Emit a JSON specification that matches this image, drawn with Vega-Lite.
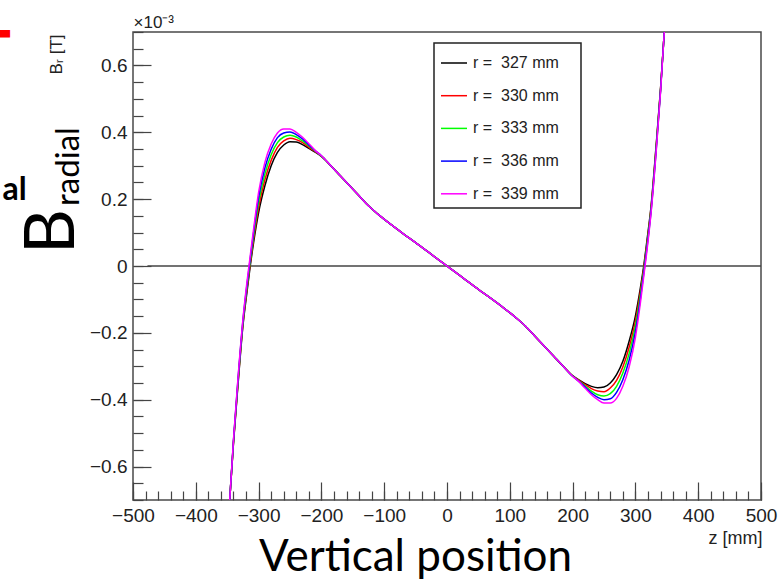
{
  "$schema": "https://vega.github.io/schema/vega-lite/v6.json",
  "width": 628,
  "height": 468,
  "autosize": "none",
  "padding": {"left": 133, "top": 32, "right": 18, "bottom": 79},
  "background": "white",
  "config": {
    "view": {"stroke": "#4a4a4a", "strokeWidth": 1.5},
    "axis": {"domain": false, "grid": false, "tickColor": "#444", "tickWidth": 1.2, "labelFont": "Liberation Sans", "labelFontSize": 19, "labelColor": "#222", "titleFont": "Liberation Sans", "titleColor": "#000", "titleFontWeight": "normal", "labelFlush": false, "labelOverlap": false},
    "legend": {"strokeWidth": 1.5}
  },
  "resolve": {"axis": {"x": "independent", "y": "independent"}},
  "layer": [
    {
      "data": {"values": [{"z1": -477, "z2": 500, "v": 0}]},
      "mark": {"type": "rule", "color": "#444", "strokeWidth": 1.5},
      "encoding": {
        "x": {"field": "z1", "type": "quantitative", "scale": {"domain": [-500, 500], "nice": false, "zero": false},
          "axis": {"orient": "bottom", "values": [-500,-480,-460,-440,-420,-400,-380,-360,-340,-320,-300,-280,-260,-240,-220,-200,-180,-160,-140,-120,-100,-80,-60,-40,-20,0,20,40,60,80,100,120,140,160,180,200,220,240,260,280,300,320,340,360,380,400,420,440,460,480,500], "tickSize": -9, "labels": false,
            "title": "Vertical position", "titleFont": "Lato", "titleFontSize": 44, "titleX": 282, "titleY": 70, "titleAlign": "center", "titleBaseline": "alphabetic"}},
        "x2": {"field": "z2"},
        "y": {"field": "v", "type": "quantitative", "scale": {"domain": [-0.7, 0.7], "nice": false, "zero": false},
          "axis": {"orient": "left", "values": [-0.7,-0.65,-0.6,-0.55,-0.5,-0.45,-0.4,-0.35,-0.3,-0.25,-0.2,-0.15,-0.1,-0.05,0,0.05,0.1,0.15,0.2,0.25,0.3,0.35,0.4,0.45,0.5,0.55,0.6,0.65,0.7], "tickSize": -10, "labels": false,
            "title": "B", "titleFont": "Lato", "titleFontSize": 70, "titleAngle": -90, "titleX": -60, "titleY": 199, "titleAlign": "center", "titleBaseline": "alphabetic"}}
      }
    },
    {
      "data": {"values": [
        {"z": -346, "r327": -0.7, "r330": -0.7, "r333": -0.7, "r336": -0.7, "r339": -0.7},
        {"z": -340, "r327": -0.53, "r330": -0.528, "r333": -0.525, "r336": -0.523, "r339": -0.52},
        {"z": -333, "r327": -0.36, "r330": -0.355, "r333": -0.35, "r336": -0.345, "r339": -0.34},
        {"z": -325, "r327": -0.18, "r330": -0.175, "r333": -0.17, "r336": -0.165, "r339": -0.16},
        {"z": -318, "r327": -0.07, "r330": -0.062, "r333": -0.055, "r336": -0.048, "r339": -0.04},
        {"z": -314, "r327": -0.01, "r330": -0.002, "r333": 0.005, "r336": 0.012, "r339": 0.02},
        {"z": -308, "r327": 0.07, "r330": 0.08, "r333": 0.09, "r336": 0.1, "r339": 0.11},
        {"z": -300, "r327": 0.16, "r330": 0.175, "r333": 0.19, "r336": 0.205, "r339": 0.22},
        {"z": -290, "r327": 0.24, "r330": 0.258, "r333": 0.275, "r336": 0.293, "r339": 0.31},
        {"z": -280, "r327": 0.3, "r330": 0.316, "r333": 0.333, "r336": 0.349, "r339": 0.365},
        {"z": -270, "r327": 0.34, "r330": 0.355, "r333": 0.369, "r336": 0.384, "r339": 0.398},
        {"z": -260, "r327": 0.362, "r330": 0.374, "r333": 0.386, "r336": 0.398, "r339": 0.41},
        {"z": -250, "r327": 0.372, "r330": 0.382, "r333": 0.391, "r336": 0.401, "r339": 0.41},
        {"z": -240, "r327": 0.371, "r330": 0.378, "r333": 0.386, "r336": 0.393, "r339": 0.4},
        {"z": -230, "r327": 0.363, "r330": 0.369, "r333": 0.374, "r336": 0.38, "r339": 0.385},
        {"z": -220, "r327": 0.352, "r330": 0.355, "r333": 0.359, "r336": 0.362, "r339": 0.366},
        {"z": -210, "r327": 0.341, "r330": 0.342, "r333": 0.344, "r336": 0.345, "r339": 0.346},
        {"z": -200, "r327": 0.328, "r330": 0.329, "r333": 0.329, "r336": 0.33, "r339": 0.33},
        {"z": -185, "r327": 0.3, "r330": 0.3, "r333": 0.3, "r336": 0.3, "r339": 0.3},
        {"z": -170, "r327": 0.27, "r330": 0.27, "r333": 0.27, "r336": 0.27, "r339": 0.27},
        {"z": -155, "r327": 0.24, "r330": 0.24, "r333": 0.24, "r336": 0.24, "r339": 0.24},
        {"z": -140, "r327": 0.21, "r330": 0.21, "r333": 0.21, "r336": 0.21, "r339": 0.21},
        {"z": -125, "r327": 0.18, "r330": 0.18, "r333": 0.18, "r336": 0.18, "r339": 0.18},
        {"z": -110, "r327": 0.155, "r330": 0.155, "r333": 0.155, "r336": 0.155, "r339": 0.155},
        {"z": -90, "r327": 0.125, "r330": 0.125, "r333": 0.125, "r336": 0.125, "r339": 0.125},
        {"z": -70, "r327": 0.097, "r330": 0.097, "r333": 0.097, "r336": 0.097, "r339": 0.097},
        {"z": -50, "r327": 0.07, "r330": 0.07, "r333": 0.07, "r336": 0.07, "r339": 0.07},
        {"z": -30, "r327": 0.042, "r330": 0.042, "r333": 0.042, "r336": 0.042, "r339": 0.042},
        {"z": -10, "r327": 0.014, "r330": 0.014, "r333": 0.014, "r336": 0.014, "r339": 0.014},
        {"z": 0, "r327": 0, "r330": 0, "r333": 0, "r336": 0, "r339": 0},
        {"z": 10, "r327": -0.014, "r330": -0.014, "r333": -0.014, "r336": -0.014, "r339": -0.014},
        {"z": 30, "r327": -0.042, "r330": -0.042, "r333": -0.042, "r336": -0.042, "r339": -0.042},
        {"z": 50, "r327": -0.07, "r330": -0.07, "r333": -0.07, "r336": -0.07, "r339": -0.07},
        {"z": 70, "r327": -0.097, "r330": -0.097, "r333": -0.097, "r336": -0.097, "r339": -0.097},
        {"z": 90, "r327": -0.125, "r330": -0.125, "r333": -0.125, "r336": -0.125, "r339": -0.125},
        {"z": 110, "r327": -0.155, "r330": -0.155, "r333": -0.155, "r336": -0.155, "r339": -0.155},
        {"z": 125, "r327": -0.18, "r330": -0.18, "r333": -0.18, "r336": -0.18, "r339": -0.18},
        {"z": 140, "r327": -0.21, "r330": -0.21, "r333": -0.21, "r336": -0.21, "r339": -0.21},
        {"z": 155, "r327": -0.24, "r330": -0.24, "r333": -0.24, "r336": -0.24, "r339": -0.24},
        {"z": 170, "r327": -0.27, "r330": -0.27, "r333": -0.27, "r336": -0.27, "r339": -0.27},
        {"z": 185, "r327": -0.3, "r330": -0.3, "r333": -0.3, "r336": -0.3, "r339": -0.3},
        {"z": 200, "r327": -0.328, "r330": -0.329, "r333": -0.329, "r336": -0.33, "r339": -0.33},
        {"z": 210, "r327": -0.341, "r330": -0.342, "r333": -0.344, "r336": -0.345, "r339": -0.346},
        {"z": 220, "r327": -0.352, "r330": -0.355, "r333": -0.359, "r336": -0.362, "r339": -0.366},
        {"z": 230, "r327": -0.36, "r330": -0.367, "r333": -0.374, "r336": -0.38, "r339": -0.385},
        {"z": 240, "r327": -0.364, "r330": -0.374, "r333": -0.385, "r336": -0.393, "r339": -0.4},
        {"z": 250, "r327": -0.362, "r330": -0.376, "r333": -0.389, "r336": -0.4, "r339": -0.41},
        {"z": 260, "r327": -0.35, "r330": -0.365, "r333": -0.382, "r336": -0.397, "r339": -0.41},
        {"z": 270, "r327": -0.325, "r330": -0.342, "r333": -0.36, "r336": -0.378, "r339": -0.396},
        {"z": 280, "r327": -0.285, "r330": -0.302, "r333": -0.32, "r336": -0.34, "r339": -0.36},
        {"z": 290, "r327": -0.225, "r330": -0.243, "r333": -0.262, "r336": -0.282, "r339": -0.302},
        {"z": 300, "r327": -0.15, "r330": -0.165, "r333": -0.18, "r336": -0.197, "r339": -0.214},
        {"z": 308, "r327": -0.065, "r330": -0.076, "r333": -0.087, "r336": -0.098, "r339": -0.11},
        {"z": 314, "r327": 0.01, "r330": 0.002, "r333": -0.005, "r336": -0.012, "r339": -0.02},
        {"z": 318, "r327": 0.07, "r330": 0.062, "r333": 0.055, "r336": 0.048, "r339": 0.04},
        {"z": 325, "r327": 0.18, "r330": 0.175, "r333": 0.17, "r336": 0.165, "r339": 0.16},
        {"z": 333, "r327": 0.36, "r330": 0.355, "r333": 0.35, "r336": 0.345, "r339": 0.34},
        {"z": 340, "r327": 0.53, "r330": 0.528, "r333": 0.525, "r336": 0.523, "r339": 0.52},
        {"z": 346, "r327": 0.7, "r330": 0.7, "r333": 0.7, "r336": 0.7, "r339": 0.7}
      ]},
      "transform": [{"fold": ["r327", "r330", "r333", "r336", "r339"], "as": ["r", "v"]}],
      "mark": {"type": "line", "strokeWidth": 1.5, "interpolate": "monotone", "clip": true},
      "encoding": {
        "x": {"field": "z", "type": "quantitative", "scale": {"domain": [-500, 500], "nice": false, "zero": false},
          "axis": {"orient": "bottom", "values": [-500,-400,-300,-200,-100,0,100,200,300,400,500], "tickSize": -18, "labelPadding": 24, "format": "d",
            "title": "z [mm]", "titleFontSize": 18, "titleColor": "#222", "titleX": 629, "titleY": 43, "titleAlign": "right", "titleBaseline": "alphabetic"}},
        "y": {"field": "v", "type": "quantitative", "scale": {"domain": [-0.7, 0.7], "nice": false, "zero": false},
          "axis": {"orient": "left", "values": [-0.6,-0.4,-0.2,0,0.2,0.4,0.6], "tickSize": -18, "labelPadding": 24, "format": "~g",
            "title": "Bᵣ [T]", "titleFontSize": 17, "titleColor": "#222", "titleAngle": -90, "titleX": -77, "titleY": 22, "titleAlign": "center", "titleBaseline": "middle"}},
        "color": {"field": "r", "type": "nominal",
          "scale": {"domain": ["r327", "r330", "r333", "r336", "r339"], "range": ["#000000", "#ff0000", "#00ff00", "#0000ff", "#ff00ff"]},
          "legend": {"orient": "none", "legendX": 301, "legendY": 11, "title": "\u00a0", "titleOrient": "right", "titlePadding": 16, "titleFontSize": 16, "padding": 6, "strokeColor": "#222", "fillColor": "#ffffff",
            "symbolType": "stroke", "symbolSize": 676, "symbolStrokeWidth": 1.5, "labelFont": "Liberation Sans", "labelFontSize": 16, "labelColor": "#222",
            "labelOffset": 5, "rowPadding": 10.7, "labelExpr": "'r =\u00a0\u00a0' + slice(datum.label, 1) + ' mm'"}}
      }
    },
    {
      "data": {"values": [{"z1": -477, "z2": 500, "v": 0}]},
      "mark": {"type": "rule", "opacity": 0},
      "encoding": {
        "x": {"field": "z1", "type": "quantitative", "scale": {"domain": [-500, 500], "nice": false, "zero": false},
          "axis": {"orient": "top", "ticks": false, "labels": false, "title": "×10⁻³", "titleFontSize": 17, "titleColor": "#222", "titleX": 0, "titleY": -5, "titleAlign": "left", "titleBaseline": "alphabetic"}},
        "x2": {"field": "z2"},
        "y": {"field": "v", "type": "quantitative", "scale": {"domain": [-0.7, 0.7], "nice": false, "zero": false},
          "axis": {"orient": "left", "ticks": false, "labels": false, "title": "radial", "titleFont": "Lato", "titleFontSize": 33, "titleAngle": -90, "titleX": -55, "titleY": 134, "titleAlign": "center", "titleBaseline": "alphabetic"}}
      }
    },
    {
      "data": {"values": [{"z1": -477, "z2": 500, "v": 0}]},
      "mark": {"type": "rule", "opacity": 0},
      "encoding": {
        "x": {"field": "z1", "type": "quantitative", "scale": {"domain": [-500, 500], "nice": false, "zero": false},
          "axis": {"orient": "top", "ticks": false, "labels": false, "title": "▬", "titleFont": "DejaVu Sans", "titleFontSize": 20, "titleColor": "#ff0000", "titleX": -131, "titleY": 0, "titleAlign": "center", "titleBaseline": "middle"}},
        "x2": {"field": "z2"},
        "y": {"field": "v", "type": "quantitative", "scale": {"domain": [-0.7, 0.7], "nice": false, "zero": false},
          "axis": {"orient": "left", "ticks": false, "labels": false, "title": "al", "titleFont": "Lato", "titleFontWeight": "bold", "titleFontSize": 32, "titleAngle": 0, "titleX": -119, "titleY": 167, "titleAlign": "center", "titleBaseline": "alphabetic"}}
      }
    }
  ]
}
